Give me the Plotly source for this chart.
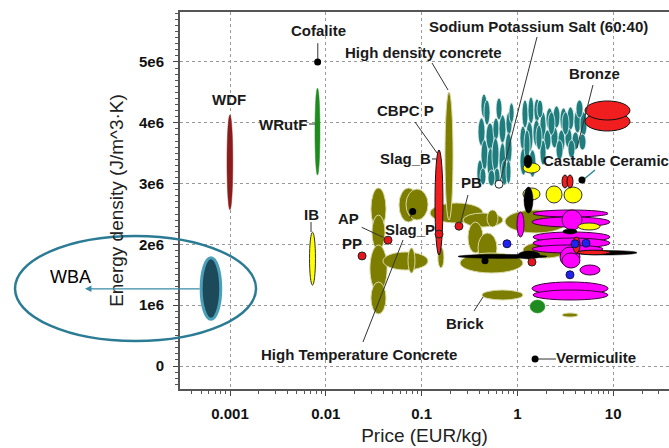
import numpy as np
import plotly.graph_objects as go

# ---------------- DATA (price in EUR/kg, energy density in 1e6 J/m^3K) ----------------
# Each material bubble: price low/high, energy-density low/high
teal_p_lo = [0.417, 0.388, 0.417, 0.470, 0.482, 0.556, 0.543, 0.643, 0.643, 0.760, 0.743, 0.817, 0.378, 0.570,
             1.117, 1.291, 1.489, 1.064, 1.230, 1.455, 1.064, 1.321, 1.722, 1.990, 2.355, 2.786, 3.296, 3.899,
             4.498, 1.897, 2.244, 2.655, 3.141, 3.715, 4.395, 1.722, 1.603,
             0.4477, 0.5984, 0.4074, 0.4932, 0.6745, 0.7603,
             1.172, 1.563, 2.085, 2.924, 4.093, 2.531, 3.373]
teal_p_hi = [0.482, 0.459, 0.493, 0.570, 0.570, 0.643, 0.643, 0.760, 0.760, 0.879, 0.879, 0.923, 0.4375, 0.658,
             1.291, 1.489, 1.722, 1.230, 1.455, 1.722, 1.259, 1.563, 1.990, 2.355, 2.786, 3.296, 3.899, 4.613,
             5.333, 2.244, 2.655, 3.141, 3.715, 4.395, 5.200, 1.990, 1.849,
             0.5176, 0.6902, 0.4699, 0.5834, 0.798, 0.857,
             1.355, 1.807, 2.466, 3.459, 4.84, 2.993, 3.99]
teal_e_lo = [4.079, 3.618, 3.224, 3.553, 3.059, 3.717, 3.191, 3.668, 3.092, 3.799, 3.306, 3.997, 2.961, 2.961,
             3.914, 3.980, 4.013, 3.553, 3.520, 3.618, 3.141, 3.109, 3.717, 3.882, 3.914, 3.865, 3.882, 3.832,
             3.783, 3.553, 3.586, 3.520, 3.586, 3.553, 3.553, 3.306, 4.079,
             3.964, 4.046, 2.977, 2.961, 2.977, 2.993,
             3.388, 3.553, 3.799, 3.799, 4.079, 3.388, 3.421]
teal_e_hi = [4.474, 4.079, 3.717, 3.997, 3.586, 4.079, 3.750, 4.128, 3.668, 4.178, 3.832, 4.326, 3.388, 3.257,
             4.375, 4.424, 4.391, 3.947, 4.013, 4.046, 3.586, 3.553, 4.178, 4.243, 4.276, 4.243, 4.260, 4.211,
             4.178, 3.882, 3.931, 3.882, 3.914, 3.849, 3.816, 3.717, 4.375,
             4.375, 4.408, 3.257, 3.224, 3.388, 3.388,
             3.882, 3.964, 4.178, 4.178, 4.375, 3.717, 3.717]

olive_p_lo = [0.0296, 0.0303, 0.0289, 0.0296, 0.0581, 0.0687, 0.0395, 0.0721, 0.148, 0.1225, 0.2704, 0.482,
              0.3048, 0.388, 0.2518, 0.743, 1.143, 0.4266, 2.924, 0.1754]
olive_p_hi = [0.0425, 0.0415, 0.0436, 0.0425, 0.0916, 0.1167, 0.1167, 0.0853, 0.171, 0.4375, 0.7079, 0.627,
              0.4375, 0.612, 1.143, 3.296, 3.296, 1.143, 4.295, 0.2128]
olive_e_lo = [2.237, 1.908, 1.217, 0.855, 2.368, 2.401, 1.579, 1.530, 1.612, 2.352, 2.286, 2.286,
              1.859, 1.694, 1.530, 2.188, 1.776, 1.086, 0.806, 2.401]
olive_e_hi = [2.928, 2.484, 1.990, 1.382, 2.928, 2.911, 1.875, 1.941, 1.957, 2.681, 2.516, 2.566,
              2.368, 2.188, 1.859, 2.566, 2.039, 1.250, 0.872, 4.507]

magenta_p_lo = [1.455, 1.419, 1.455, 1.455, 1.419, 1.419, 1.455, 0.991, 2.924, 2.786, 2.924, 4.498]
magenta_p_hi = [8.831, 9.26, 9.26, 9.26, 7.834, 8.831, 8.831, 1.172, 4.721, 4.498, 4.498, 7.278]
magenta_e_lo = [2.451, 2.286, 2.039, 1.941, 1.859, 1.168, 1.086, 2.122, 2.237, 1.628, 1.612, 1.497]
magenta_e_hi = [2.566, 2.451, 2.204, 2.105, 1.990, 1.382, 1.250, 2.533, 2.566, 1.957, 1.859, 1.661]

yellow_p_lo = [1.143, 1.990, 3.064, 1.143, 4.295]
yellow_p_hi = [1.722, 2.924, 4.721, 1.722, 7.278]
yellow_e_lo = [3.174, 2.681, 2.681, 2.730, 2.237]
yellow_e_hi = [3.339, 2.961, 2.944, 2.928, 2.352]

black_p_lo = [0.2399, 1.014, 1.172, 1.172, 3.990, 2.993]
black_p_hi = [2.037, 1.722, 1.419, 1.455, 17.70, 4.188]
black_e_lo = [1.770, 1.760, 3.257, 2.516, 1.826, 2.170]
black_e_hi = [1.835, 1.890, 3.470, 2.944, 1.900, 2.255]

red_p_lo = [0.138, 5.080, 5.080, 2.924, 3.296, 4.188, 3.802]
red_p_hi = [0.1671, 14.96, 14.96, 3.373, 3.802, 9.26, 4.498]
red_e_lo = [1.826, 3.865, 4.046, 2.928, 2.928, 1.830, 1.859]
red_e_hi = [3.553, 4.178, 4.359, 3.141, 3.141, 1.905, 2.122]

single_names = ["WBA", "WDF", "WRutF", "IB", "Green"]
single_p_lo = [0.0005, 0.00093, 0.00771, 0.00676, 1.355]
single_p_hi = [0.0008, 0.00107, 0.00869, 0.0078, 1.941]
single_e_lo = [0.77, 2.57, 3.14, 1.33, 0.872]
single_e_hi = [1.78, 4.13, 4.57, 2.20, 1.086]

# point materials
red_dot_p = [0.2455, 0.0446, 0.0239, 1.419, 0.152]
red_dot_e = [2.30, 2.07, 1.81, 1.71, 2.17]
blue_dot_p = [0.778, 3.99, 5.2, 3.54]
blue_dot_e = [2.01, 2.01, 2.02, 1.50]
black_dot_p = [0.00822, 0.0807, 0.459, 4.72, 1.53]
black_dot_e = [5.0, 2.54, 1.73, 3.06, 0.115]
white_dot_p = [0.643]
white_dot_e = [2.99]

# labels
lab_text = ["Cofalite", "Sodium Potassium Salt (60:40)", "High density concrete", "Bronze", "WDF", "CBPC P",
            "WRutF", "Slag_B", "Castable Ceramic", "PB", "IB", "AP", "Slag_P", "PP", "Brick",
            "High Temperature Concrete", "Vermiculite"]
lab_p = [0.00829, 1.641, 0.1036, 6.31, 0.000976, 0.0687, 0.00357, 0.0687, 1.763, 0.3357, 0.00701, 0.01706,
         0.0757, 0.01875, 0.2838, 0.02223, 6.615]
lab_e = [5.51, 5.576, 5.148, 4.803, 4.391, 4.194, 3.980, 3.405, 3.388, 3.010, 2.50, 2.418, 2.253, 2.023,
         0.707, 0.197, 0.132]

# leader lines (label -> material)
lead_p0 = [0.00825, 1.603, 0.1285, 6.15, 0.0853, 0.00668, 0.1285, 0.3048, 0.00701, 0.0237, 0.0757, 0.3524, 0.02443, 1.641]
lead_e0 = [5.31, 5.411, 4.984, 4.622, 4.013, 3.98, 3.405, 2.812, 2.368, 2.281, 2.434, 0.905, 0.395, 0.115]
lead_p1 = [0.00825, 0.6577, 0.1888, 4.188, 0.1449, 0.00771, 0.1449, 0.2518, 0.00701, 0.0398, 0.0803, 0.4375, 0.0640, 2.531]
lead_e1 = [5.05, 3.026, 4.539, 3.586, 3.503, 3.98, 3.405, 2.319, 2.204, 2.117, 2.521, 1.135, 2.072, 0.115]
cast_p = [6.457, 4.84]
cast_e = [3.224, 3.059]

# WBA highlight zone (price, energy density)
wba_zone_p = [5.7e-6, 1.87e-3]
wba_zone_e = [0.41, 2.14]
wba_text_p = 1.26e-5
wba_arrow_p = 3.06e-5
wba_arrow_e = 1.27

x_ticks = [0.001, 0.01, 0.1, 1, 10]
x_ticktext = ["0.001", "0.01", "0.1", "1", "10"]
y_ticks = [0, 1e6, 2e6, 3e6, 4e6, 5e6]
y_ticktext = ["0", "1e6", "2e6", "3e6", "4e6", "5e6"]

# ---------------- FIGURE ----------------
XR = [-3.522, 1.5825]
YR = [-0.378e6, 5.822e6]
W, H = 669, 448
ML, MR, MT, MB = 180, 0, 12, 59
PW = W - ML - MR
PH = H - MT - MB

fig = go.Figure()


def add_ell(plo, phi, elo, ehi, fill, line, lw, layer="between"):
    for a, b, c, d in zip(plo, phi, elo, ehi):
        fig.add_shape(type="circle", xref="x", yref="y", x0=a, x1=b, y0=c * 1e6, y1=d * 1e6,
                      fillcolor=fill, line=dict(color=line, width=lw), layer=layer)


add_ell(teal_p_lo, teal_p_hi, teal_e_lo, teal_e_hi, "#1f7d7d", "#e8f4f4", 0.8)
add_ell(olive_p_lo, olive_p_hi, olive_e_lo, olive_e_hi, "#7d7d00", "#d9d9a8", 1)
add_ell(magenta_p_lo[:8], magenta_p_hi[:8], magenta_e_lo[:8], magenta_e_hi[:8], "#ff00ff", "#3a003a", 1)
add_ell(magenta_p_lo[8:], magenta_p_hi[8:], magenta_e_lo[8:], magenta_e_hi[8:], "#ff00ff", "#3a003a", 1)
add_ell(yellow_p_lo, yellow_p_hi, yellow_e_lo, yellow_e_hi, "#ffff00", "#333333", 1)
add_ell(black_p_lo, black_p_hi, black_e_lo, black_e_hi, "#000000", "#000000", 0.5)
add_ell(red_p_lo, red_p_hi, red_e_lo, red_e_hi, "#f01e1e", "#111111", 1)

single_fill = ["#1c4a5a", "#8b1c1c", "#1f8b1f", "#ffff00", "#1f8a1f"]
single_line = ["#4aa0b8", "#8b1c1c", "#1f8b1f", "#333333", "#1f8a1f"]
single_lw = [3, 0.5, 0.5, 1, 0.5]
for i in range(len(single_names)):
    add_ell([single_p_lo[i]], [single_p_hi[i]], [single_e_lo[i]], [single_e_hi[i]],
            single_fill[i], single_line[i], single_lw[i])

# leader lines
lx, ly = [], []
for a, b, c, d in zip(lead_p0, lead_e0, lead_p1, lead_e1):
    lx += [a, c, None]
    ly += [b * 1e6, d * 1e6, None]
fig.add_trace(go.Scatter(x=lx, y=ly, mode="lines", line=dict(color="#333333", width=1), hoverinfo="skip"))
fig.add_trace(go.Scatter(x=cast_p, y=[v * 1e6 for v in cast_e], mode="lines",
                         line=dict(color="#2a8a9a", width=1.5), hoverinfo="skip"))

# point materials
fig.add_trace(go.Scatter(x=red_dot_p, y=[v * 1e6 for v in red_dot_e], mode="markers",
                         marker=dict(size=8, color="#e8141c", line=dict(color="#222", width=1))))
fig.add_trace(go.Scatter(x=blue_dot_p, y=[v * 1e6 for v in blue_dot_e], mode="markers",
                         marker=dict(size=8, color="#2222ee", line=dict(color="#111155", width=1))))
fig.add_trace(go.Scatter(x=black_dot_p, y=[v * 1e6 for v in black_dot_e], mode="markers",
                         marker=dict(size=7, color="#000000")))
fig.add_trace(go.Scatter(x=white_dot_p, y=[v * 1e6 for v in white_dot_e], mode="markers",
                         marker=dict(size=8, color="#ffffff", line=dict(color="#222", width=1))))

# labels
for t, p, e in zip(lab_text, lab_p, lab_e):
    fig.add_annotation(x=np.log10(p), y=e * 1e6, xref="x", yref="y", text=t, showarrow=False,
                       xanchor="left" if t == "Castable Ceramic" else "center",
                       font=dict(family="Liberation Sans", size=15, color="#1a1a1a", weight="bold"))


# WBA highlight (in paper units computed from the axis scales)
def px_(p):
    return (np.log10(p) - XR[0]) / (XR[1] - XR[0])


def py_(e):
    return (e * 1e6 - YR[0]) / (YR[1] - YR[0])


fig.add_shape(type="circle", xref="paper", yref="paper",
              x0=px_(wba_zone_p[0]), x1=px_(wba_zone_p[1]),
              y0=py_(wba_zone_e[0]), y1=py_(wba_zone_e[1]),
              line=dict(color="#2b7b94", width=2.5), layer="above")
fig.add_annotation(xref="paper", yref="paper", x=px_(wba_arrow_p), y=py_(wba_arrow_e),
                   ax=(px_(single_p_lo[0]) - px_(wba_arrow_p)) * PW, ay=0, text="",
                   showarrow=True, arrowhead=2, arrowsize=1, arrowwidth=1.3, arrowcolor="#3a8aa5", standoff=0)
fig.add_annotation(xref="paper", yref="paper", x=px_(wba_text_p), y=py_(wba_arrow_e), text="WBA",
                   showarrow=False, font=dict(family="Liberation Sans", size=18, color="#000"))

tickfont = dict(family="Liberation Sans", size=15, color="#111", weight="bold")
titlefont = dict(family="Liberation Sans", size=19, color="#222")
minor_x = [k * 10.0 ** n for n in range(-4, 2) for k in range(2, 10)]

fig.update_xaxes(type="log", range=XR, tickmode="array", tickvals=x_ticks, ticktext=x_ticktext,
                 ticks="outside", ticklen=5, tickwidth=1.2, tickcolor="#444",
                 showline=True, linecolor="#555", linewidth=2, mirror=True,
                 showgrid=True, gridcolor="#999", griddash="dot", gridwidth=1.3, zeroline=False,
                 tickfont=tickfont, ticklabelstandoff=5,
                 minor=dict(tickmode="array", tickvals=minor_x, ticks="outside", ticklen=3,
                            tickcolor="#555", showgrid=False),
                 title=dict(text="Price (EUR/kg)", font=titlefont, standoff=8))
fig.update_yaxes(range=YR, tickmode="array", tickvals=y_ticks, ticktext=y_ticktext,
                 ticks="outside", ticklen=5, tickwidth=1.2, tickcolor="#444",
                 showline=True, linecolor="#555", linewidth=2, mirror=False,
                 showgrid=True, gridcolor="#999", griddash="dot", gridwidth=1.3, zeroline=False,
                 tickfont=tickfont, ticklabelstandoff=6,
                 minor=dict(dtick=1e5, ticks="outside", ticklen=3, tickcolor="#555", showgrid=False),
                 title=dict(text="Energy density (J/m^3·K)", font=titlefont, standoff=10))

fig.update_layout(width=W, height=H, margin=dict(l=ML, r=MR, t=MT, b=MB),
                  paper_bgcolor="white", plot_bgcolor="white", showlegend=False)

fig.write_html("out.html")
